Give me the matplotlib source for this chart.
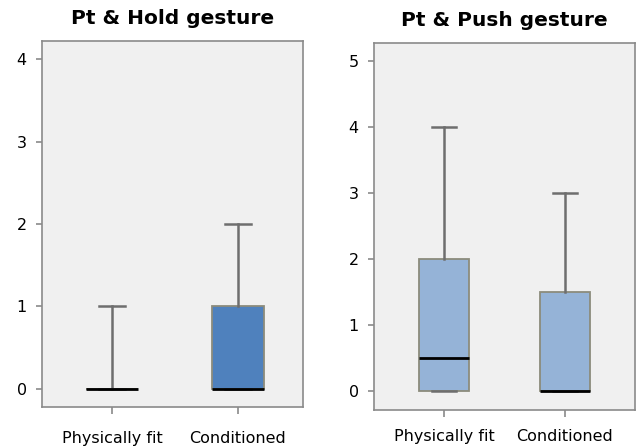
import matplotlib
matplotlib.use("Agg")
import matplotlib.pyplot as plt

categories = ["Physically fit", "Conditioned"]
titles = ["Pt & Hold gesture", "Pt & Push gesture"]

# box statistics: whislo, q1, median, q3, whishi
hold_whislo = [0, 0]
hold_q1 = [0, 0]
hold_med = [0, 0]
hold_q3 = [0, 1]
hold_whishi = [1, 2]

push_whislo = [0, 0]
push_q1 = [0, 0]
push_med = [0.5, 0]
push_q3 = [2, 1.5]
push_whishi = [4, 3]

hold_yticks = [0, 1, 2, 3, 4]
push_yticks = [0, 1, 2, 3, 4, 5]

fig = plt.figure(figsize=(6.37, 4.46), dpi=100)
axL = fig.add_axes([42/637, 1-407/446, 261/637, 366/446])
axR = fig.add_axes([374/637, 1-410/446, 261/637, 367/446])

def stats(lo, q1, med, q3, hi):
    out = []
    for i in range(len(lo)):
        out.append(dict(whislo=lo[i], q1=q1[i], med=med[i], q3=q3[i], whishi=hi[i], fliers=[], label=categories[i]))
    return out

def draw(ax, st, colors, yticks, ylim, xlim, title, xpad):
    ax.set_facecolor("#f0f0f0")
    bp = ax.bxp(st, positions=[0, 1], widths=0.41, patch_artist=True, showfliers=False,
                boxprops=dict(edgecolor="#8c8c7c", linewidth=1.3),
                medianprops=dict(color="black", linewidth=2),
                whiskerprops=dict(color="#6e6e6e", linewidth=1.8),
                capprops=dict(color="#6e6e6e", linewidth=1.8),
                capwidths=0.2)
    for p, c in zip(bp["boxes"], colors):
        p.set_facecolor(c)
    ax.set_ylim(*ylim)
    ax.set_xlim(*xlim)
    ax.set_yticks(yticks)
    ax.set_xticks([0, 1])
    ax.set_xticklabels(categories)
    for s in ax.spines.values():
        s.set_color("#8a8a8a")
        s.set_linewidth(1.2)
    ax.tick_params(axis="y", colors="#8a8a8a", labelcolor="black", labelsize=11.5, length=4, width=1.2, pad=7)
    ax.tick_params(axis="x", colors="#8a8a8a", labelcolor="black", labelsize=11.5, length=5, width=1.2, pad=xpad)
    ax.set_title(title, fontsize=14.5, fontweight="bold", pad=12)

draw(axL, stats(hold_whislo, hold_q1, hold_med, hold_q3, hold_whishi), ["#4f81bd", "#4f81bd"],
     hold_yticks, (-0.22, 4.22), (-0.555, 1.516), titles[0], 12)
draw(axR, stats(push_whislo, push_q1, push_med, push_q3, push_whishi), ["#95b3d7", "#95b3d7"],
     push_yticks, (-0.29, 5.27), (-0.58, 1.58), titles[1], 9)

fig.savefig("out.png", dpi=100)
